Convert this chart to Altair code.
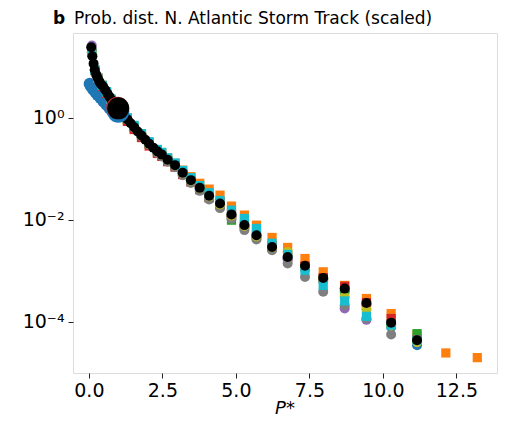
import altair as alt
import pandas as pd

# ---------------- data ----------------
BLACK_X = [0.08, 0.12, 0.16, 0.20, 0.25, 0.30, 0.36, 0.42, 0.49, 0.56, 0.63, 0.70, 0.77, 0.85, 0.92,
           1.10, 1.20, 1.31, 1.42, 1.54, 1.66, 1.79, 1.92, 2.05, 2.19, 2.33, 2.48, 2.68, 2.93, 3.19,
           3.47, 3.77, 4.09, 4.46, 4.85, 5.29, 5.70, 6.23, 6.76, 7.35, 7.97, 8.70, 9.44, 10.28, 11.16]
BLACK_Y = [24, 16, 11.5, 8.6, 7.0, 6.0, 5.1, 4.5, 4.05, 3.5, 3.0, 2.6, 2.22, 1.9, 1.7,
           1.3, 1.1, 0.93, 0.78, 0.65, 0.54, 0.45, 0.37, 0.31, 0.26, 0.22, 0.19, 0.15, 0.118, 0.0835,
           0.060, 0.0424, 0.0296, 0.0210, 0.0128, 0.0079, 0.0050, 0.00295, 0.00188, 0.00126, 7.3e-4,
           4.5e-4, 2.36e-4, 9.7e-5, 4.4e-5]

# common bins of the coloured series
CX = [0.1, 0.2, 0.3, 0.45, 0.6, 0.75, 0.9, 1.1, 1.31, 1.54, 1.79, 2.05, 2.33, 2.48, 2.68, 2.93,
      3.19, 3.47, 3.77, 4.09, 4.46, 4.85, 5.29, 5.70, 6.23, 6.76, 7.35, 7.97, 8.70, 9.44, 10.28, 11.16]

BLUE = [None, None, None, None, None, None, None, 1.25, 0.9, 0.63, 0.44, 0.3, 0.215, 0.185, 0.148,
        0.115, 0.082, 0.059, 0.041, 0.029, 0.020, 0.0122, 0.0075, 0.0047, 0.0028, 0.0018, 0.0012,
        7.0e-4, 4.0e-4, 2.2e-4, 8.0e-5, 3.5e-5]
ORANGE = [19, 8.6, 6.0, 4.3, 3.2, 2.3, 1.75, 1.3, 0.94, 0.66, 0.46, 0.32, 0.23, 0.20, 0.16, 0.128,
          0.094, 0.070, 0.052, 0.040, 0.0305, 0.0186, 0.0124, 0.00787, 0.00452, 0.00288, 0.00175,
          0.00096, 5.2e-4, 2.88e-4, 1.46e-4, 5.5e-5]
ORANGE_EXTRA_X = [12.14, 13.21]
ORANGE_EXTRA_Y = [2.47e-5, 2.0e-5]
GREEN = [19, 8.6, 6.0, 4.3, 3.2, 2.3, 1.75, 1.28, 0.92, 0.64, 0.44, 0.305, 0.215, 0.185, 0.148,
         0.115, 0.082, 0.059, 0.041, 0.028, 0.019, 0.00986, 0.0075, 0.0048, 0.0029, 0.0018, 0.0012,
         7.0e-4, 4.2e-4, 2.2e-4, 9.5e-5, 5.9e-5]
RED = [19, 8.4, 5.8, 4.1, 3.0, 2.15, 1.62, 1.2, 0.85, 0.59, 0.41, 0.28, 0.2, 0.175, 0.138, 0.108,
       0.077, 0.055, 0.039, 0.027, 0.022, 0.013, 0.0082, 0.0052, 0.0031, 0.0019, 0.00125, 7.4e-4,
       5.0e-4, 2.4e-4, 1.17e-4, 4.5e-5]
PURPLE = [26, 8.8, 6.0, 4.3, 3.2, 2.3, 1.75, 1.3, 0.93, 0.65, 0.45, 0.31, 0.22, 0.19, 0.15, 0.116,
          0.082, 0.058, 0.041, 0.028, 0.019, 0.0118, 0.0072, 0.0045, 0.0027, 0.0017, 0.0011, 6.4e-4,
          1.83e-4, 1.1e-4, 9.0e-5, 4.0e-5]
GRAY = [19, 8.6, 6.0, 4.3, 3.2, 2.3, 1.75, 1.28, 0.91, 0.63, 0.43, 0.295, 0.205, 0.175, 0.138,
        0.107, 0.075, 0.053, 0.037, 0.025, 0.017, 0.0105, 0.0063, 0.00413, 0.00255, 0.0014, 7.6e-4,
        3.9e-4, 2.1e-4, 1.17e-4, 5.7e-5, None]
OLIVE = [19, 8.6, 6.0, 4.3, 3.2, 2.3, 1.75, 1.3, 0.93, 0.65, 0.45, 0.31, 0.22, 0.19, 0.15, 0.117,
         0.083, 0.059, 0.042, 0.029, 0.020, 0.0122, 0.0076, 0.0048, 0.0029, 0.00236, 0.0012, 6.8e-4,
         3.1e-4, 1.75e-4, 8.5e-5, 4.0e-5]
CYAN = [19, 8.6, 6.0, 4.3, 3.2, 2.3, 1.75, 1.4, 1.0, 0.71, 0.49, 0.34, 0.24, 0.21, 0.165, 0.13,
        0.093, 0.067, 0.047, 0.034, 0.024, 0.0155, 0.01065, 0.00678, 0.00349, 0.0021, 0.00103,
        5.2e-4, 2.58e-4, 1.29e-4, 8.7e-5, 4.4e-5]

# blue series plotted with larger circles near the origin
BLUE_HEAD_X = [0.03, 0.08, 0.15, 0.22, 0.30, 0.40, 0.50, 0.60, 0.70, 0.80, 0.90]
BLUE_HEAD_Y = [4.6, 4.1, 3.6, 3.2, 2.8, 2.45, 2.1, 1.8, 1.55, 1.33, 1.18]

# the large markers at P* = 1
BIG_X = [1.0, 0.97, 1.0]
BIG_Y = [1.31, 1.58, 1.53]
BIG_COLOR = ["#1f77b4", "#d62728", "#000000"]

TITLE_B = "b"
TITLE_REST = "Prob. dist. N. Atlantic Storm Track (scaled)"
X_TITLE = "P*"
X_TICKS = [0.0, 2.5, 5.0, 7.5, 10.0, 12.5]
Y_TICKS = [1, 0.01, 0.0001]

# ---------------- chart ----------------
FONT = "DejaVu Sans"
W, H = 424, 340
xs = alt.Scale(domain=[-0.54, 13.88], nice=False, zero=False)
ys = alt.Scale(type="log", domain=[1e-5, 45.8], nice=False)

xenc = alt.X("x:Q", scale=xs, title=None,
             axis=alt.Axis(values=X_TICKS, format=".1f", grid=False, domain=False,
                           tickSize=5, tickColor="#222", labelPadding=3,
                           labelFontSize=19, labelFont=FONT, labelColor="black"))
yenc = alt.Y("y:Q", scale=ys, title=None,
             axis=alt.Axis(values=Y_TICKS, grid=False, domain=False, tickSize=5,
                           tickColor="#222", labelPadding=4, labelFontSize=19,
                           labelFont=FONT, labelColor="black",
                           labelExpr="datum.value >= 0.5 ? '10⁰' : (datum.value >= 0.005 ? '10⁻²' : '10⁻⁴')"))


def series(xv, yv, color, shape, size):
    rows = [(a, b) for a, b in zip(xv, yv) if b is not None]
    df = pd.DataFrame(rows, columns=["x", "y"])
    return alt.Chart(df).mark_point(filled=True, shape=shape, size=size, color=color,
                                    opacity=1).encode(x=xenc, y=yenc)


layers = [
    series(BLUE_HEAD_X, BLUE_HEAD_Y, "#1f77b4", "circle", 150),
    series(CX, BLUE, "#1f77b4", "circle", 100),
    series(CX + ORANGE_EXTRA_X, ORANGE + ORANGE_EXTRA_Y, "#ff7f0e", "square", 85),
    series(CX, GREEN, "#2ca02c", "square", 85),
    series(CX, RED, "#d62728", "square", 85),
    series(CX, PURPLE, "#9467bd", "circle", 100),
    series(CX, GRAY, "#7f7f7f", "circle", 100),
    series(CX, OLIVE, "#bcbd22", "circle", 100),
    series(CX, CYAN, "#17becf", "square", 85),
    series(BLACK_X, BLACK_Y, "#000000", "circle", 100),
]

big_df = pd.DataFrame({"x": BIG_X, "y": BIG_Y, "c": BIG_COLOR})
big = alt.Chart(big_df).mark_point(filled=True, shape="circle", size=484, opacity=1).encode(
    x=xenc, y=yenc, color=alt.Color("c:N", scale=None))
layers.append(big)

tdf = pd.DataFrame({"t": [0]})
title_b = alt.Chart(tdf).mark_text(align="left", baseline="alphabetic", font=FONT,
                                   fontSize=17, fontWeight="bold", color="black").encode(
    x=alt.value(-20), y=alt.value(-9), text=alt.value(TITLE_B))
title_r = alt.Chart(tdf).mark_text(align="left", baseline="alphabetic", font=FONT,
                                   fontSize=17, color="black").encode(
    x=alt.value(1), y=alt.value(-9), text=alt.value(TITLE_REST))
x_title = alt.Chart(tdf).mark_text(align="center", baseline="alphabetic", font=FONT,
                                   fontSize=18, fontStyle="italic", color="black").encode(
    x=alt.value(W / 2), y=alt.value(H + 41), text=alt.value(X_TITLE))
layers += [title_b, title_r, x_title]

chart = alt.layer(*layers).properties(
    width=W, height=H,
    autosize=alt.AutoSizeParams(type="none"),
    padding={"left": 65, "top": 25, "right": 13, "bottom": 46},
).configure_view(stroke="#222", strokeWidth=1.2).configure(background="white")

chart.save("out.html", embed_options={"renderer": "svg", "actions": False})
